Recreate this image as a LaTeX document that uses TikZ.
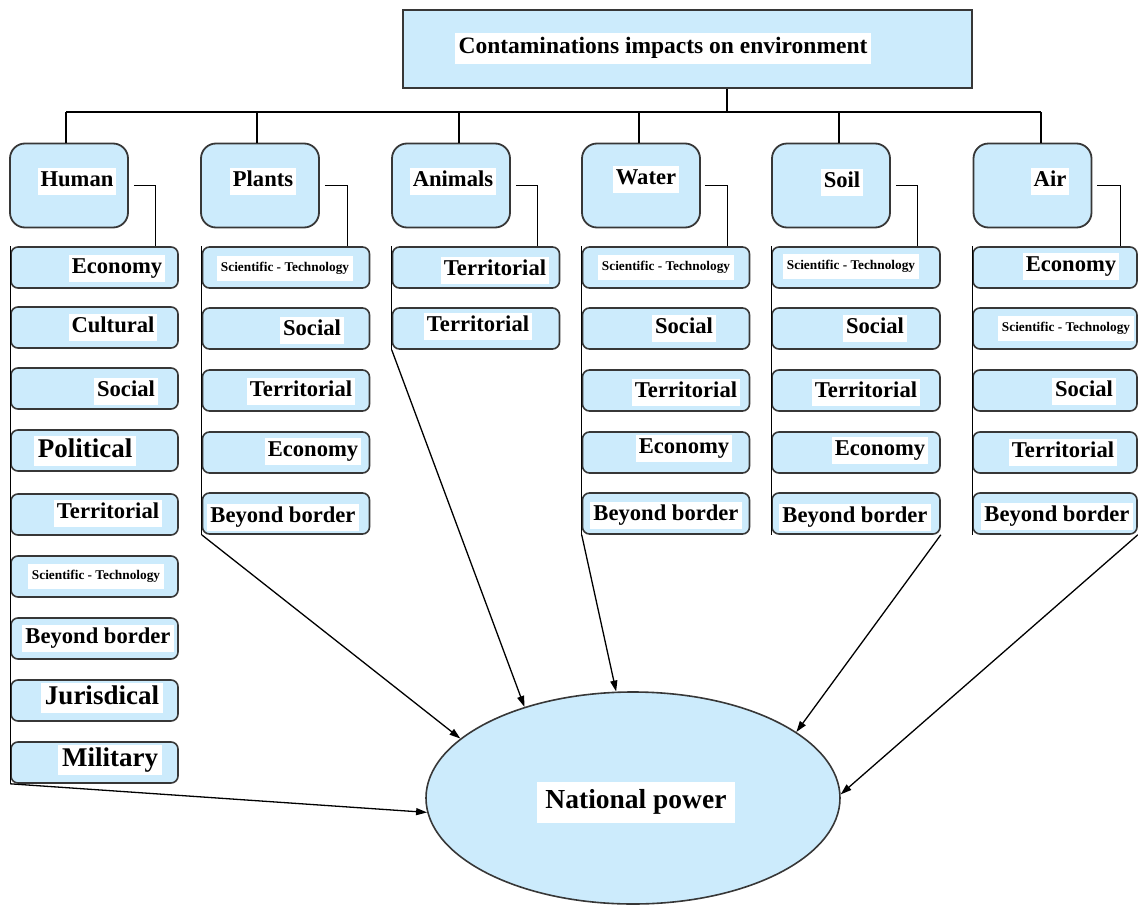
\documentclass[tikz,border=0pt]{standalone}
\usepackage{fontspec}
\setmainfont{Liberation Serif}
\usetikzlibrary{shapes.geometric,arrows.meta}
\definecolor{boxblue}{RGB}{204,235,252}
\definecolor{edgegray}{RGB}{55,55,55}
\begin{document}
\begin{tikzpicture}[x=1pt,y=-1pt,
  topbox/.style={draw=edgegray, line width=2pt, fill=boxblue, minimum width=569pt, minimum height=78pt, inner sep=0pt},
  catbox/.style={draw=edgegray, line width=1.8pt, fill=boxblue, rounded corners=15pt, minimum width=118pt, minimum height=84pt, inner sep=0pt},
  subbox/.style={draw=edgegray, line width=1.6pt, fill=boxblue, rounded corners=7pt, minimum width=167pt, minimum height=41pt, inner sep=0pt},
  npbox/.style={ellipse, draw=edgegray, line width=1.6pt, fill=boxblue, minimum width=414pt, minimum height=212pt, inner sep=0pt},
  lab/.style={fill=white, inner xsep=3pt, inner ysep=3.5pt, font=\bfseries\fontsize{22.6}{22.6}\selectfont, text height=15pt, text depth=5pt},
  labbig/.style={fill=white, inner xsep=4pt, inner ysep=3pt, font=\bfseries\fontsize{27}{27}\selectfont, text height=18pt, text depth=6pt},
  labsmall/.style={fill=white, inner xsep=4pt, inner ysep=6.5pt, font=\bfseries\fontsize{13.3}{13.3}\selectfont, text height=9pt, text depth=3pt},
  labtop/.style={fill=white, inner xsep=4pt, inner ysep=5pt, font=\bfseries\fontsize{23.5}{23.5}\selectfont, text height=16pt, text depth=5pt},
  labnp/.style={fill=white, inner xsep=8pt, inner ysep=9pt, font=\bfseries\fontsize{27.5}{27.5}\selectfont, text height=18pt, text depth=5pt},
  conn/.style={line width=1.3pt, black},
  arr/.style={conn, -{Triangle[length=11pt,width=7pt]}}
]
\useasboundingbox (0,0) rectangle (1138,905);

% top box
\node[topbox] (top) at (687.5,49) {};
\node[labtop] (topt) at (663,48) {Contaminations impacts on environment};

% category boxes
\node[catbox] (hum) at (69,185.5) {};
\node[catbox] (pla) at (260,185.5) {};
\node[catbox] (ani) at (451,185.5) {};
\node[catbox] (wat) at (641,185.5) {};
\node[catbox] (soi) at (831,185.5) {};
\node[catbox] (air) at (1032.5,185.5) {};
\node[lab] (humt) at (77,181) {Human};
\node[lab] (plat) at (263,181) {Plants};
\node[lab] (anit) at (453,181) {Animals};
\node[lab] (watt) at (646,179) {Water};
\node[lab] (soit) at (842,182) {Soil};
\node[lab] (airt) at (1050,181) {Air};

% bus
\coordinate (bus) at (0,112);
\draw[conn] ([xshift=39.5pt]top.south) -- ([xshift=39.5pt]top.south |- bus);
\draw[conn] ([xshift=-3pt]hum.north |- bus) -- ([xshift=8.5pt]air.north |- bus);
\draw[conn] ([xshift=-3pt]hum.north) -- ([xshift=-3pt]hum.north |- bus);
\draw[conn] ([xshift=-3pt]pla.north) -- ([xshift=-3pt]pla.north |- bus);
\draw[conn] ([xshift=8pt]ani.north) -- ([xshift=8pt]ani.north |- bus);
\draw[conn] ([xshift=-2pt]wat.north) -- ([xshift=-2pt]wat.north |- bus);
\draw[conn] ([xshift=8pt]soi.north) -- ([xshift=8pt]soi.north |- bus);
\draw[conn] ([xshift=8.5pt]air.north) -- ([xshift=8.5pt]air.north |- bus);

% Human column
\foreach \i/\cy/\lx/\ly/\st/\txt in {
  1/267.5/117/268/lab/Economy,
  2/327.5/113/327/lab/Cultural,
  3/388.5/126/391/lab/Social,
  4/450.5/85/451/labbig/Political,
  5/514.5/108/513/lab/Territorial,
  6/576.5/96/576/labsmall/Scientific - Technology,
  7/638.5/98/638/lab/Beyond border,
  8/700.5/102/698/labbig/Jurisdical,
  9/762.5/110/760/labbig/Military}{
  \node[subbox] (h\i) at (94.5,\cy) {};
  \node[\st] (h\i t) at (\lx,\ly) {\txt};
}
% Plants column
\foreach \i/\cy/\lx/\ly/\st/\txt in {
  1/267.5/285/268/labsmall/Scientific - Technology,
  2/328.5/312/330/lab/Social,
  3/390.5/301/391/lab/Territorial,
  4/452.5/313/451/lab/Economy,
  5/513.5/283/517/lab/Beyond border}{
  \node[subbox] (p\i) at (286,\cy) {};
  \node[\st] (p\i t) at (\lx,\ly) {\txt};
}
% Animals column
\foreach \i/\cy/\lx/\ly/\st/\txt in {
  1/267.5/495/270/lab/Territorial,
  2/328.5/478/326/lab/Territorial}{
  \node[subbox] (a\i) at (476,\cy) {};
  \node[\st] (a\i t) at (\lx,\ly) {\txt};
}
% Water column
\foreach \i/\cy/\lx/\ly/\st/\txt in {
  1/267.5/666/267/labsmall/Scientific - Technology,
  2/328.5/684/328/lab/Social,
  3/390.5/686/392/lab/Territorial,
  4/452.5/684/448/lab/Economy,
  5/513.5/666/515/lab/Beyond border}{
  \node[subbox] (w\i) at (666,\cy) {};
  \node[\st] (w\i t) at (\lx,\ly) {\txt};
}
% Soil column
\foreach \i/\cy/\lx/\ly/\st/\txt in {
  1/267.5/851/266/labsmall/Scientific - Technology,
  2/328.5/875/328/lab/Social,
  3/390.5/866/392/lab/Territorial,
  4/452.5/880/450/lab/Economy,
  5/513.5/855/517/lab/Beyond border}{
  \node[subbox, minimum width=168pt] (s\i) at (856,\cy) {};
  \node[\st] (s\i t) at (\lx,\ly) {\txt};
}
% Air column
\foreach \i/\cy/\lx/\ly/\st/\txt in {
  1/267.5/1071/266/lab/Economy,
  2/328.5/1066/328/labsmall/Scientific - Technology,
  3/390.5/1084/391/lab/Social,
  4/452.5/1063/452/lab/Territorial,
  5/513.5/1057/516/lab/Beyond border}{
  \node[subbox, minimum width=164pt] (r\i) at (1055,\cy) {};
  \node[\st] (r\i t) at (\lx,\ly) {\txt};
}

% elbow connectors category -> first item
\draw[conn] ([xshift=5pt]hum.east) -| ([xshift=-23pt]h1.north east);
\draw[conn] ([xshift=5pt]pla.east) -| ([xshift=-23pt]p1.north east);
\draw[conn] ([xshift=5pt]ani.east) -| ([xshift=-23pt]a1.north east);
\draw[conn] ([xshift=4pt]wat.east) -| ([xshift=-23pt]w1.north east);
\draw[conn] ([xshift=5pt]soi.east) -| ([xshift=-23pt]s1.north east);
\draw[conn] ([xshift=5pt]air.east) -| ([xshift=-17pt]r1.north east);

% left vertical lines
\draw[conn] (h1.north west) -- (h9.south west);
\draw[conn] (p1.north west) -- (p5.south west);
\draw[conn] (a1.north west) -- (a2.south west);
\draw[conn] (w1.north west) -- (w5.south west);
\draw[conn] (s1.north west) -- (s5.south west);
\draw[conn] (r1.north west) -- (r5.south west);

% national power
\node[npbox] (np) at (633,798) {};
\node[labnp] (npt) at (636,802) {National power};

% arrows
\draw[arr] (h9.south west) -- (np.184);
\draw[arr] (p5.south west) -- (np.161.8);
\draw[arr] (a2.south west) -- (np.140);
\draw[arr] (w5.south west) -- (np.99.8);
\draw[arr] (s5.south east) -- (np.22.4);
\draw[arr] (r5.south east) -- (np.1.6);
\end{tikzpicture}
\end{document}
